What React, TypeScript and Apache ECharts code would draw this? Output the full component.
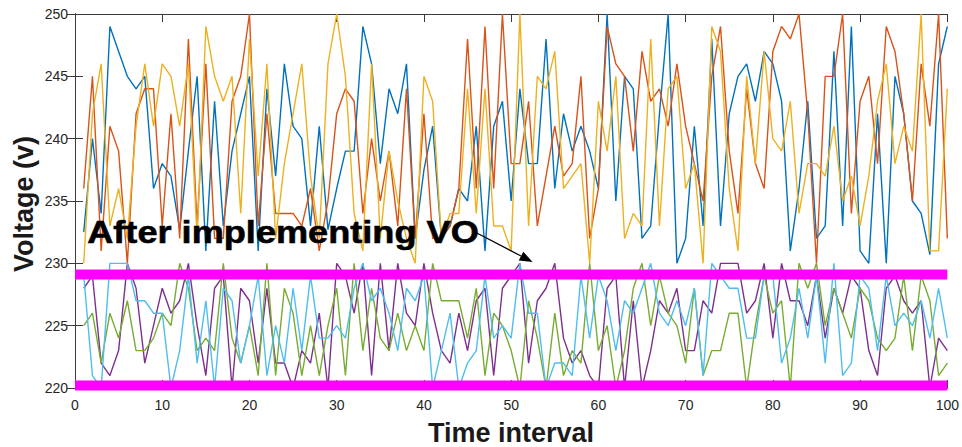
import React, { useEffect, useRef } from "react";
import * as echarts from "echarts";

const xTicks = [0, 10, 20, 30, 40, 50, 60, 70, 80, 90, 100];
const yTicks = [220, 225, 230, 235, 240, 245, 250];

const blue = [
  232.5, 240, 234, 249, 247, 245, 244, 245, 236, 238,
  237, 232.7, 239, 245, 231, 243, 233, 239, 242, 245,
  231, 244, 237, 246, 241, 240, 233, 241, 232.7, 236,
  239, 239, 249, 246, 238, 244, 242, 246, 232, 237.5,
  241, 232, 233, 236, 235, 241, 231, 241, 243, 235,
  244, 238, 238, 248, 236, 242, 239, 241, 239, 236,
  250, 235, 245, 244, 232, 233, 242, 250, 230, 232,
  241, 233, 248, 233, 242, 245, 246, 243, 247, 246,
  243, 231, 236, 243, 232, 233, 247, 233, 249, 231,
  230, 242, 230, 245, 242, 235, 234, 230.7, 246, 249,
];
const orange = [
  236, 245, 231, 241, 239, 230, 242, 244, 244, 233,
  242, 232, 248, 233, 246, 232, 232, 243, 245, 250,
  233, 242, 234, 234, 234, 233, 236, 231, 235, 242,
  244, 243, 234, 240, 235, 239, 233, 244, 232, 242,
  232, 232, 233, 236, 248, 236, 249, 236, 250, 238,
  238, 243, 233, 237, 241, 237, 238, 245, 232, 236,
  249, 246, 245, 239, 247, 243, 244, 241, 246, 241,
  238, 235, 245, 249, 239, 234, 244, 238, 236, 247,
  249, 248, 250, 242, 230, 245, 245, 250, 234, 243,
  245, 238, 249, 247, 242, 235, 246, 241, 250, 232,
];
const yellow = [
  230, 242, 246, 233, 236, 232, 241, 246, 241, 246,
  245, 241, 246, 232, 249, 245, 243, 245, 234, 248,
  237, 246, 232, 238, 242, 246, 237, 232, 246, 250,
  245, 234, 231, 246, 232, 239, 235, 232, 230, 245,
  243, 232, 234, 234, 244, 234, 244, 233, 233, 231,
  250, 233, 245, 244, 247, 236, 237, 238, 230, 243,
  239, 245, 232, 234, 233, 248, 233, 244, 245, 236,
  238, 230, 249, 247, 236, 231, 245, 238, 247, 240,
  239, 243, 234, 238, 238, 237, 241, 235, 237, 233,
  237, 243, 246, 238, 241, 239, 250, 231, 231, 244,
];
const purple = [
  228, 229, 222, 221, 223, 230, 228, 222, 225, 228,
  226, 227, 230, 225, 221, 228, 229, 220, 228, 227,
  222, 228, 222, 222, 220, 223, 222, 226, 220, 230,
  229, 226, 230, 221, 230, 223, 230, 226, 225, 230,
  226, 223, 222, 226, 223, 227, 228, 221, 228, 229,
  230, 222, 227, 228, 230, 224, 222, 223, 221, 220,
  228, 229, 220, 227, 220, 223, 227, 226, 228, 223,
  223, 227, 226, 230, 230, 230, 226, 227, 230, 224,
  230, 227, 227, 225, 229, 224, 228, 226, 229, 228,
  223, 221, 228, 229, 227, 226, 227, 220, 224, 223,
];
const green = [
  225, 226, 222, 226, 224, 227, 223, 223, 224, 226,
  225, 230, 228, 223, 224, 223, 230, 224, 222, 225,
  221, 230, 221, 228, 226, 221, 225, 221, 225, 228,
  221, 230, 223, 228, 224, 223, 226, 223, 225, 223,
  230, 227, 227, 227, 224, 228, 221, 226, 225, 223,
  220, 227, 224, 220, 226, 221, 223, 222, 230, 223,
  225, 220, 223, 228, 230, 225, 229, 226, 225, 222,
  228, 221, 223, 223, 226, 226, 220, 225, 229, 226,
  227, 220, 230, 228, 230, 225, 228, 226, 224, 228,
  227, 224, 223, 224, 229, 223, 229, 227, 221, 222,
];
const lightBlue = [
  229, 221, 220, 230, 230, 230, 227, 227, 226, 226,
  220, 223, 229, 222, 227, 220, 228, 227, 222, 225,
  229, 221, 225, 222, 228, 223, 229, 224, 224, 225,
  224, 228, 230, 227, 228, 226, 223, 228, 227, 229,
  220, 223, 226, 220, 222, 223, 229, 224, 225, 224,
  230, 226, 226, 220, 222, 222, 221, 229, 224, 229,
  227, 223, 227, 226, 228, 230, 226, 225, 227, 225,
  228, 221, 230, 229, 228, 228, 224, 224, 229, 229,
  222, 224, 228, 224, 229, 222, 230, 221, 222, 229,
  228, 223, 229, 225, 226, 225, 227, 224, 228, 224,
];
const limitLines = [229.1, 220.2];

const seriesList = [
  { name: "S1", values: blue, color: "#0072BD" },
  { name: "S2", values: orange, color: "#D95319" },
  { name: "S3", values: yellow, color: "#EDB120" },
  { name: "S4", values: purple, color: "#7E2F8E" },
  { name: "S5", values: green, color: "#77AC30" },
  { name: "S6", values: lightBlue, color: "#4DBEEE" },
];

const annotationText = "After implementing VO";
const annotationAnchor = [1.4, 232.5];
const arrowFrom = [45.9, 232.5];
const arrowTo = [52.45, 230.1];

const FONT = "'Liberation Sans', Arial, Helvetica, sans-serif";
const AXIS_COLOR = "#3a3a3a";

export default function App() {
  const ref = useRef<HTMLDivElement>(null);
  useEffect(() => {
    if (!ref.current) return;
    const chart = echarts.init(ref.current, undefined, { renderer: "svg" });
    const axisCommon = {
      type: "value" as const,
      axisLine: { show: true, lineStyle: { color: AXIS_COLOR, width: 1 } },
      axisTick: { show: true, inside: true, length: 8, lineStyle: { color: AXIS_COLOR } },
      splitLine: { show: false },
    };
    chart.setOption({
      animation: false,
      backgroundColor: "#ffffff",
      grid: { left: 75, right: 10, top: 14, bottom: 59 },
      xAxis: [
        {
          ...axisCommon,
          min: xTicks[0],
          max: xTicks[xTicks.length - 1],
          interval: 10,
          position: "bottom",
          axisLabel: { color: "#262626", fontSize: 14, fontFamily: FONT, margin: 10 },
        },
        {
          ...axisCommon,
          min: xTicks[0],
          max: xTicks[xTicks.length - 1],
          interval: 10,
          position: "top",
          axisLabel: { show: false },
        },
      ],
      yAxis: [
        {
          ...axisCommon,
          min: yTicks[0],
          max: yTicks[yTicks.length - 1],
          interval: 5,
          position: "left",
          axisLabel: { color: "#262626", fontSize: 14, fontFamily: FONT, margin: 7 },
        },
        {
          ...axisCommon,
          min: yTicks[0],
          max: yTicks[yTicks.length - 1],
          interval: 5,
          position: "right",
          axisLabel: { show: false },
        },
      ],
      series: [
        ...seriesList.map((s) => ({
          name: s.name,
          type: "line",
          data: s.values.map((v, i) => [i + 1, v]),
          symbol: "none",
          lineStyle: { color: s.color, width: 1.4 },
          itemStyle: { color: s.color },
        })),
        ...limitLines.map((v, i) => ({
          name: "limit" + i,
          type: "line",
          data: [
            [xTicks[0], v],
            [xTicks[xTicks.length - 1], v],
          ],
          symbol: "none",
          z: 5,
          lineStyle: { color: "#FF00FF", width: 10, cap: "butt" },
          itemStyle: { color: "#FF00FF" },
        })),
      ],
    });

    const p = (d: number[]) => chart.convertToPixel({ gridIndex: 0 }, d) as number[];
    const tA = p(annotationAnchor);
    const a0 = p(arrowFrom);
    const a1 = p(arrowTo);
    const dx = a1[0] - a0[0];
    const dy = a1[1] - a0[1];
    const len = Math.sqrt(dx * dx + dy * dy);
    const ux = dx / len;
    const uy = dy / len;
    const headL = 13;
    const headW = 5;
    const bx = a1[0] - ux * headL;
    const by = a1[1] - uy * headL;

    chart.setOption({
      graphic: [
        {
          type: "text",
          x: 24,
          y: 204,
          rotation: Math.PI / 2,
          style: {
            text: "Voltage (v)",
            font: `bold 27px ${FONT}`,
            fill: "#1a1a1a",
            align: "center",
            verticalAlign: "middle",
          },
        },
        {
          type: "text",
          x: 511,
          y: 433,
          style: {
            text: "Time interval",
            font: `bold 27px ${FONT}`,
            fill: "#1a1a1a",
            align: "center",
            verticalAlign: "middle",
          },
        },
        {
          type: "text",
          x: tA[0],
          y: tA[1],
          z: 20,
          scaleX: 1.13,
          style: {
            text: annotationText,
            font: `bold 32px ${FONT}`,
            fill: "#000000",
            stroke: "#000000",
            lineWidth: 0.6,
            align: "left",
            verticalAlign: "middle",
          },
        },
        {
          type: "line",
          z: 20,
          shape: { x1: a0[0], y1: a0[1], x2: bx, y2: by },
          style: { stroke: "#000000", lineWidth: 1.2 },
        },
        {
          type: "polygon",
          z: 20,
          shape: {
            points: [
              [a1[0], a1[1]],
              [bx - uy * headW, by + ux * headW],
              [bx + uy * headW, by - ux * headW],
            ],
          },
          style: { fill: "#000000" },
        },
      ],
    });

    return () => chart.dispose();
  }, []);
  return (
    <div
      ref={ref}
      style={{ position: "fixed", left: 0, top: 0, width: 962, height: 447 }}
    />
  );
}
